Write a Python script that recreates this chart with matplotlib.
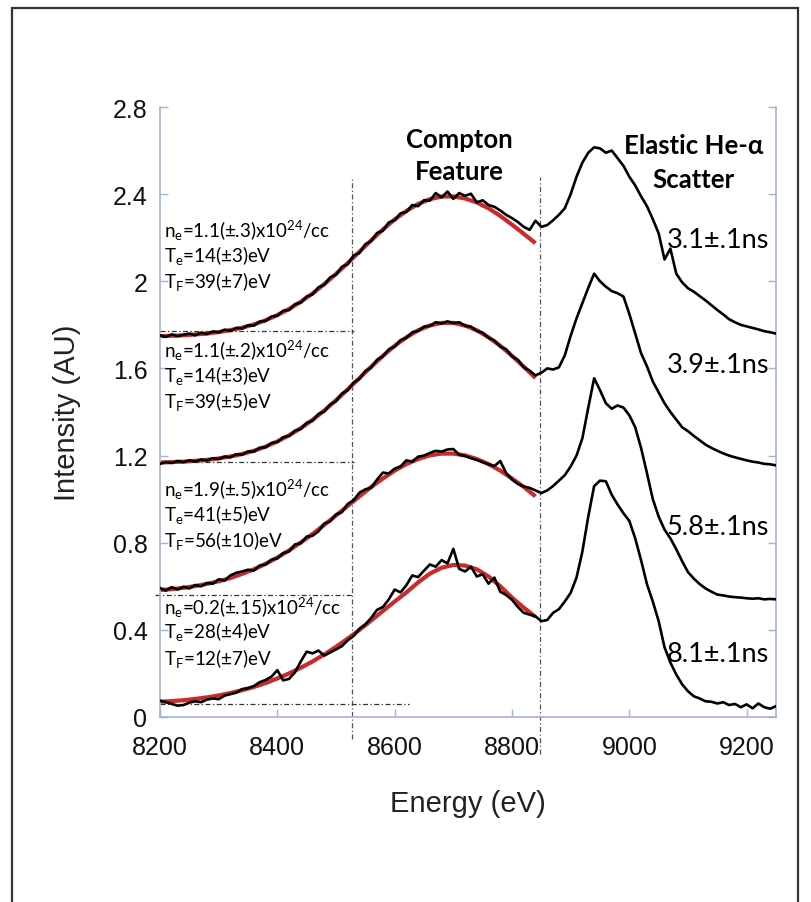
import numpy as np
import matplotlib
matplotlib.use("Agg")
import matplotlib.pyplot as plt
from matplotlib.patches import Rectangle

# ---------------- data ----------------
energy = np.arange(8200, 9251, 10)          # eV, measured spectra
fit_energy = np.arange(8200, 8841, 20)      # eV, Compton fits

spec_31 = [
    1.752, 1.745, 1.756, 1.748, 1.755, 1.760, 1.752, 1.764, 1.758, 1.770,
    1.765, 1.778, 1.772, 1.786, 1.783, 1.798, 1.796, 1.815, 1.818, 1.838,
    1.842, 1.865, 1.868, 1.895, 1.902, 1.930, 1.940, 1.972, 1.984, 2.018,
    2.030, 2.066, 2.078, 2.118, 2.130, 2.170, 2.185, 2.222, 2.232, 2.270,
    2.280, 2.312, 2.318, 2.350, 2.345, 2.372, 2.370, 2.405, 2.385, 2.412,
    2.378, 2.405, 2.392, 2.402, 2.362, 2.372, 2.350, 2.342, 2.325, 2.305,
    2.290, 2.272, 2.250, 2.236, 2.278, 2.250, 2.258, 2.280, 2.305, 2.335,
    2.400, 2.480, 2.545, 2.590, 2.615, 2.610, 2.590, 2.600, 2.565, 2.530,
    2.480, 2.440, 2.390, 2.345, 2.285, 2.220, 2.100, 2.150, 2.035, 1.995,
    1.968, 1.952, 1.932, 1.912, 1.890, 1.868, 1.848, 1.826, 1.812, 1.800,
    1.793, 1.786, 1.779, 1.771, 1.766, 1.760,
]
spec_39 = [
    1.162, 1.170, 1.166, 1.175, 1.170, 1.178, 1.172, 1.182, 1.178, 1.188,
    1.184, 1.195, 1.192, 1.206, 1.204, 1.219, 1.218, 1.236, 1.238, 1.258,
    1.262, 1.284, 1.290, 1.314, 1.322, 1.350, 1.360, 1.390, 1.402, 1.434,
    1.450, 1.484, 1.500, 1.535, 1.552, 1.588, 1.604, 1.640, 1.655, 1.688,
    1.700, 1.730, 1.740, 1.766, 1.772, 1.792, 1.795, 1.812, 1.806, 1.816,
    1.808, 1.812, 1.795, 1.792, 1.772, 1.764, 1.740, 1.728, 1.700, 1.688,
    1.655, 1.640, 1.605, 1.590, 1.568, 1.580, 1.600, 1.595, 1.605, 1.660,
    1.750, 1.830, 1.900, 1.970, 2.035, 2.000, 1.975, 1.955, 1.945, 1.930,
    1.850, 1.760, 1.670, 1.610, 1.540, 1.490, 1.440, 1.400, 1.365, 1.330,
    1.312, 1.290, 1.270, 1.250, 1.235, 1.222, 1.210, 1.200, 1.192, 1.185,
    1.178, 1.172, 1.168, 1.162, 1.160, 1.155,
]
spec_58 = [
    0.592, 0.580, 0.596, 0.585, 0.598, 0.590, 0.606, 0.600, 0.615, 0.612,
    0.632, 0.626, 0.650, 0.662, 0.668, 0.676, 0.672, 0.695, 0.700, 0.722,
    0.728, 0.752, 0.760, 0.792, 0.798, 0.828, 0.832, 0.852, 0.888, 0.898,
    0.930, 0.940, 0.978, 0.995, 1.030, 1.045, 1.052, 1.090, 1.122, 1.118,
    1.140, 1.150, 1.178, 1.172, 1.195, 1.200, 1.212, 1.222, 1.218, 1.228,
    1.230, 1.204, 1.198, 1.188, 1.180, 1.170, 1.160, 1.152, 1.175, 1.120,
    1.090, 1.070, 1.058, 1.052, 1.040, 1.028, 1.040, 1.060, 1.085, 1.110,
    1.150, 1.200, 1.280, 1.420, 1.555, 1.500, 1.440, 1.415, 1.430, 1.420,
    1.385, 1.330, 1.235, 1.120, 1.000, 0.920, 0.860, 0.820, 0.770, 0.715,
    0.665, 0.635, 0.610, 0.590, 0.575, 0.562, 0.558, 0.553, 0.550, 0.548,
    0.545, 0.543, 0.545, 0.540, 0.542, 0.540,
]
spec_81 = [
    0.075, 0.068, 0.060, 0.052, 0.055, 0.066, 0.072, 0.068, 0.080, 0.085,
    0.082, 0.098, 0.105, 0.112, 0.128, 0.132, 0.142, 0.160, 0.170, 0.185,
    0.215, 0.168, 0.175, 0.205, 0.255, 0.300, 0.292, 0.305, 0.282, 0.296,
    0.310, 0.325, 0.352, 0.372, 0.405, 0.425, 0.455, 0.492, 0.505, 0.540,
    0.585, 0.572, 0.605, 0.650, 0.642, 0.672, 0.700, 0.690, 0.720, 0.705,
    0.772, 0.680, 0.668, 0.690, 0.645, 0.655, 0.612, 0.640, 0.575, 0.560,
    0.538, 0.505, 0.478, 0.470, 0.462, 0.440, 0.445, 0.478, 0.495, 0.530,
    0.570, 0.640, 0.760, 0.920, 1.060, 1.085, 1.082, 1.020, 0.975, 0.935,
    0.900, 0.820, 0.720, 0.610, 0.530, 0.440, 0.320, 0.250, 0.195, 0.150,
    0.118, 0.095, 0.085, 0.072, 0.070, 0.062, 0.068, 0.055, 0.060, 0.045,
    0.058, 0.040, 0.062, 0.045, 0.038, 0.050,
]

fit_31 = [1.748, 1.750, 1.752, 1.756, 1.760, 1.767, 1.776, 1.787, 1.802, 1.821,
          1.845, 1.873, 1.906, 1.944, 1.987, 2.034, 2.084, 2.136, 2.188, 2.238,
          2.284, 2.323, 2.355, 2.377, 2.389, 2.390, 2.380, 2.362, 2.335, 2.300,
          2.260, 2.218, 2.175]
fit_39 = [1.168, 1.170, 1.172, 1.176, 1.180, 1.187, 1.196, 1.207, 1.222, 1.241,
          1.265, 1.293, 1.326, 1.364, 1.407, 1.454, 1.504, 1.556, 1.608, 1.658,
          1.704, 1.743, 1.775, 1.797, 1.809, 1.809, 1.797, 1.775, 1.743, 1.704,
          1.658, 1.608, 1.556]
fit_58 = [0.583, 0.587, 0.593, 0.601, 0.611, 0.623, 0.638, 0.657, 0.678, 0.703,
          0.732, 0.765, 0.801, 0.840, 0.882, 0.925, 0.969, 1.013, 1.056, 1.095,
          1.131, 1.161, 1.184, 1.201, 1.209, 1.209, 1.201, 1.184, 1.161, 1.131,
          1.095, 1.056, 1.013]
fit_81 = [0.070, 0.073, 0.077, 0.083, 0.090, 0.099, 0.110, 0.123, 0.138, 0.156,
          0.177, 0.200, 0.226, 0.255, 0.287, 0.322, 0.360, 0.400, 0.443, 0.487,
          0.530, 0.572, 0.618, 0.658, 0.685, 0.698, 0.695, 0.678, 0.645, 0.600,
          0.548, 0.502, 0.460]

spectra = [spec_31, spec_39, spec_58, spec_81]
fits = [fit_31, fit_39, fit_58, fit_81]

time_labels = ["3.1±.1ns", "3.9±.1ns", "5.8±.1ns", "8.1±.1ns"]
time_label_y = [2.19, 1.62, 0.875, 0.29]

ne_labels = ["1.1(±.3)", "1.1(±.2)", "1.9(±.5)", "0.2(±.15)"]
te_labels = ["14(±3)", "14(±3)", "41(±5)", "28(±4)"]
tf_labels = ["39(±7)", "39(±5)", "56(±10)", "12(±7)"]
fit_label_y = [2.235, 1.684, 1.046, 0.505]

baseline_levels = [1.77, 1.17, 0.56, 0.06]
baseline_start = [8200, 8200, 8192, 8200]
baseline_end = [8530, 8530, 8530, 8625]
window_edges = [8527, 8848]
window_bottoms = [-0.10, -0.17]
window_top = 2.48

x_ticks = [8200, 8400, 8600, 8800, 9000, 9200]
x_tick_labels = ["8200", "8400", "8600", "8800", "9000", "9200"]
y_ticks = [0, 0.4, 0.8, 1.2, 1.6, 2.0, 2.4, 2.8]
y_tick_labels = ["0", "0.4", "0.8", "1.2", "1.6", "2", "2.4", "2.8"]

# ---------------- style ----------------
W, H = 811, 903
plt.rcParams["font.family"] = ["Liberation Sans", "DejaVu Sans"]
plt.rcParams["mathtext.default"] = "regular"
note_font = ["Lato", "DejaVu Sans"]
axis_blue = "#a4b1dc"
fit_red = "#cc2a2a"
guide = "#555555"
guide_style = (0, (4, 2, 1, 2))

fig = plt.figure(figsize=(W / 100, H / 100), dpi=100)
fig.patch.set_facecolor("white")

# outer frame around the whole figure
fig.add_artist(Rectangle((12 / W, -0.02), (798 - 12) / W, 0.99 + 0.02,
                         transform=fig.transFigure, fill=False,
                         ec="#333333", lw=1.6))

ax = fig.add_axes([160 / W, 1 - 718 / H, (776 - 160) / W, (718 - 108) / H])
ax.set_xlim(8200, 9250)
ax.set_ylim(0, 2.8)

for side in ("left", "bottom", "right"):
    ax.spines[side].set_color(axis_blue)
    ax.spines[side].set_linewidth(1.2)
ax.spines["top"].set_visible(False)

ax.set_xticks(x_ticks)
ax.set_xticklabels(x_tick_labels)
ax.set_yticks(y_ticks)
ax.set_yticklabels(y_tick_labels)
ax.tick_params(axis="both", direction="in", color=axis_blue, length=6,
               width=1.0, labelsize=18, labelcolor="#111111")
ax.tick_params(axis="x", pad=13)
ax.tick_params(axis="y", pad=9, right=True)

ax.set_xlabel("Energy (eV)", fontsize=21, color="#222222")
ax.set_ylabel("Intensity (AU)", fontsize=21, color="#222222")
ax.xaxis.set_label_coords(0.5, -0.118)
ax.yaxis.set_label_coords(-0.128, 0.5)

# guide lines marking the Compton window and spectrum baselines
for x, yb in zip(window_edges, window_bottoms):
    ax.plot([x, x], [yb, window_top], color=guide, lw=0.9,
            linestyle=guide_style, clip_on=False, zorder=1)
for y, x0, x1 in zip(baseline_levels, baseline_start, baseline_end):
    ax.plot([x0, x1], [y, y], color="#333333", lw=0.9,
            linestyle=guide_style, clip_on=False, zorder=1)

# fits and spectra
for fit in fits:
    ax.plot(fit_energy, fit, color=fit_red, lw=3.0, solid_capstyle="butt",
            zorder=2)
for spec in spectra:
    ax.plot(energy, spec, color="black", lw=1.9, zorder=3)

# annotations
bold = dict(ha="center", va="center", fontsize=18.5, fontweight="bold",
            family=note_font)
ax.text(8711, 2.653, "Compton", **bold)
ax.text(8711, 2.506, "Feature", **bold)
ax.text(9110, 2.625, "Elastic He-α", **bold)
ax.text(9110, 2.469, "Scatter", **bold)

for lab, y in zip(time_labels, time_label_y):
    ax.text(9063, y, lab, ha="left", va="center", fontsize=19.5,
            family=note_font)

line_gap = [0.0, 0.11, 0.23]
small = dict(ha="left", va="center", fontsize=13.5, family=note_font)
for ne, te, tf, y in zip(ne_labels, te_labels, tf_labels, fit_label_y):
    ax.text(8207, y - line_gap[0], "n$_e$=" + ne + "x10$^{24}$/cc", **small)
    ax.text(8207, y - line_gap[1], "T$_e$=" + te + "eV", **small)
    ax.text(8207, y - line_gap[2], "T$_F$=" + tf + "eV", **small)

fig.savefig("out.png", dpi=100)
